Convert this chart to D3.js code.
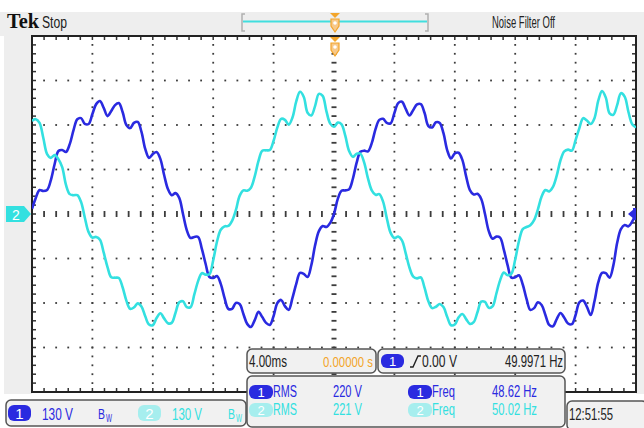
<!DOCTYPE html>
<html>
<head>
<meta charset="utf-8">
<script src="https://cdn.jsdelivr.net/npm/d3@7"></script>
<style>
body { margin: 0; background: #fff; }
text { font-family: "Liberation Sans Narrow", "Liberation Sans", Arial, sans-serif; }
</style>
</head>
<body>
<svg id="scope" width="644" height="428"></svg>
<script>
/* scope settings: 4 ms/div, 130 V/div, samples every 0.25 ms from -20 ms */
var timeDiv = 4, voltDiv = 130;
var tStart = -20, dt = 0.25;

// channel 1 (blue), volts
var ch1Volts = [
  15,47,70,67,70,99,146,184,187,181,
  204,245,277,280,263,263,292,321,330,310,
  286,301,318,324,298,260,251,266,269,240,
  190,164,175,181,161,114,73,55,61,47,
  0,
  -47,-70,-67,-67,-102,-146,-184,-187,-181,-204,
  -245,-277,-277,-260,-263,-292,-321,-330,-310,-286,
  -301,-318,-324,-298,-260,-251,-269,-280,-245,-204,
  -172,-175,-184,-149,-91,-50,-35,-38,-26,0,
  44,68,69,72,103,150,182,185,183,207,
  248,275,278,266,265,295,324,328,307,288,
  304,320,321,295,257,253,268,266,236,186,
  162,177,179,158,110,70,57,59,44,0,
  -50,-72,-66,-69,-105,-150,-186,-185,-179,-206,
  -248,-280,-275,-258,-266,-295,-324,-328,-307,-289,
  -303,-320,-322,-295,-258,-253,-271,-295,-255,-200,
  -172,-173,-186,-150,-85,-44,-32,-36,-22,2
];

// channel 2 (cyan), volts
var ch2Volts = [
  272,277,266,222,175,164,172,160,137,85,
  58,55,55,35,
  -11,-53,-69,-67,-75,-113,-155,-185,-186,-187,
  -214,-253,-277,-273,-261,-270,-299,-323,-325,-304,
  -290,-305,-319,-318,-289,-258,-255,-272,-272,-235,
  -196,-173,-177,-176,-135,-81,-46,-36,-35,-20,
  11,53,69,68,77,110,155,185,186,187,
  214,253,278,275,261,282,329,357,342,296,
  288,316,351,345,300,264,255,267,262,228,
  184,167,176,176,150,104,69,56,58,36,
  -13,-55,-70,-66,-77,-115,-157,-183,-188,-185,
  -216,-255,-275,-271,-263,-272,-301,-325,-323,-302,
  -292,-307,-321,-316,-287,-256,-257,-274,-270,-233,
  -194,-171,-179,-174,-133,-79,-44,-38,-33,-18,
  13,51,70,66,79,112,157,183,188,185,
  216,251,280,273,263,280,331,359,340,294,
  290,318,353,343,298,262,253
];

// readouts
var chScale = ["130 V", "130 V"];
var measRms = ["220 V", "221 V"];
var measFreq = ["48.62 Hz", "50.02 Hz"];
var timebase = "4.00ms", trigPos = "0.00000 s", trigLevel = "0.00 V", trigFreq = "49.9971 Hz";
var clock = "12:51:55";

var blue = "#2a2ae0", cyan = "#33e0e0", pale = "#a6eeee", orange = "#f3a52a";

var svg = d3.select("#scope");
var x = d3.scaleLinear().domain([-20, 20]).range([32, 636]);
var y = d3.scaleLinear().domain([-4 * voltDiv, 4 * voltDiv]).range([392, 36]);

// background bands
svg.append("rect").attr("x", 0).attr("y", 12).attr("width", 644).attr("height", 24).attr("fill", "#eeeeee");
svg.append("rect").attr("x", 4).attr("y", 36).attr("width", 28).attr("height", 358).attr("fill", "#eeeeee");
svg.append("rect").attr("x", 636).attr("y", 36).attr("width", 8).attr("height", 358).attr("fill", "#eeeeee");
svg.append("rect").attr("x", 32).attr("y", 36).attr("width", 604).attr("height", 356).attr("fill", "#fff");

var majT = d3.range(-20, 20.001, timeDiv);
var minT = d3.range(-20, 20.001, timeDiv / 5);
var majV = d3.range(-4 * voltDiv, 4 * voltDiv + 0.001, voltDiv);
var minV = d3.range(-4 * voltDiv, 4 * voltDiv + 0.001, voltDiv / 5);

var grid = svg.append("g").attr("fill", "#3c3c3c");
// dotted graticule
majT.filter(function(t) { return Math.abs(t) > 0.01 && Math.abs(t) < 19.9; }).forEach(function(t) {
  grid.selectAll(null).data(minV).enter().append("rect")
    .attr("x", x(t) - 0.9).attr("y", function(v) { return y(v) - 0.9; })
    .attr("width", 1.8).attr("height", 1.8);
});
majV.filter(function(v) { return Math.abs(v) > 0.01 && Math.abs(v) < 4 * voltDiv - 1; }).forEach(function(v) {
  grid.selectAll(null).data(minT).enter().append("rect")
    .attr("x", function(t) { return x(t) - 0.9; }).attr("y", y(v) - 0.9)
    .attr("width", 1.8).attr("height", 1.8);
});
// centre cross
grid.selectAll(null).data(minV).enter().append("rect")
  .attr("x", x(0) - 2.5).attr("y", function(v) { return y(v) - 0.9; })
  .attr("width", 5).attr("height", 1.8);
grid.selectAll(null).data(minT).enter().append("rect")
  .attr("x", function(t) { return x(t) - 0.9; }).attr("y", y(0) - 3)
  .attr("width", 1.8).attr("height", 6);

// border ticks
var ticks = svg.append("g").attr("stroke", "#333").attr("stroke-width", 1.5);
ticks.selectAll(null).data(minT).enter().append("line")
  .attr("x1", function(t) { return x(t); }).attr("x2", function(t) { return x(t); })
  .attr("y1", 36).attr("y2", 40);
ticks.selectAll(null).data(minT).enter().append("line")
  .attr("x1", function(t) { return x(t); }).attr("x2", function(t) { return x(t); })
  .attr("y1", 392).attr("y2", 388);
ticks.selectAll(null).data(minV).enter().append("line")
  .attr("y1", function(v) { return y(v); }).attr("y2", function(v) { return y(v); })
  .attr("x1", 32).attr("x2", 36);
ticks.selectAll(null).data(minV).enter().append("line")
  .attr("y1", function(v) { return y(v); }).attr("y2", function(v) { return y(v); })
  .attr("x1", 636).attr("x2", 632);
svg.append("rect").attr("x", 32).attr("y", 36).attr("width", 604).attr("height", 356)
  .attr("fill", "none").attr("stroke", "#222").attr("stroke-width", 2);

// traces
svg.append("clipPath").attr("id", "plotClip").append("rect")
  .attr("x", 32).attr("y", 36).attr("width", 604).attr("height", 356);
var trace = d3.line()
  .x(function(d, i) { return x(tStart + i * dt); })
  .y(function(d) { return y(d); })
  .curve(d3.curveCatmullRom.alpha(0.5));
var traces = svg.append("g").attr("clip-path", "url(#plotClip)");
traces.append("path").attr("d", trace(ch1Volts)).attr("fill", "none")
  .attr("stroke", blue).attr("stroke-width", 2.6).attr("stroke-linejoin", "round");
traces.append("path").attr("d", trace(ch2Volts)).attr("fill", "none")
  .attr("stroke", cyan).attr("stroke-width", 2.6).attr("stroke-linejoin", "round");

// helpers
function txt(s, px, py, color, len, size) {
  var t = svg.append("text").attr("x", px).attr("y", py).text(s)
    .attr("fill", color).attr("font-size", size || 16);
  if (len) t.attr("textLength", len).attr("lengthAdjust", "spacingAndGlyphs");
  return t;
}
function pill(px, py, w, h, fill, label) {
  svg.append("rect").attr("x", px).attr("y", py).attr("width", w).attr("height", h)
    .attr("rx", 6).attr("fill", fill);
  txt(label, px + w / 2, py + h - 2.5, "#fff", null, h - 1).attr("text-anchor", "middle");
}
function box(px, py, w, h) {
  svg.append("rect").attr("x", px).attr("y", py).attr("width", w).attr("height", h)
    .attr("rx", 5).attr("fill", "#f1f1f1").attr("stroke", "#555").attr("stroke-width", 1.5);
}
function bw(px, py, color) {
  txt("B", px, py - 1, color, 7, 14);
  txt("W", px + 8, py + 2, color, 6, 10);
}

// top bar
txt("Tek", 7, 28, "#111", 32, 21).style("font-family", "'Liberation Serif', 'DejaVu Serif', serif").attr("font-weight", "bold");
txt("Stop", 42, 28, "#222", 25, 16);
txt("Noise Filter Off", 492, 28, "#222", 63, 16);
svg.append("path").attr("d", "M245,14H242V31H245M425,14H428V31H425")
  .attr("fill", "none").attr("stroke", "#b0b0b0").attr("stroke-width", 1.5);
svg.append("line").attr("x1", 243).attr("x2", 427).attr("y1", 21.5).attr("y2", 21.5)
  .attr("stroke", "#40dede").attr("stroke-width", 2);

// trigger position markers
[13, 37].forEach(function(top) {
  var cx = x(0) + 1;
  svg.append("path").attr("d", "M" + (cx - 5) + "," + top + "H" + (cx + 5) + "L" + cx + "," + (top + 5) + "Z")
    .attr("fill", orange);
  svg.append("path").attr("d", "M" + (cx - 4) + "," + (top + 6) + "H" + (cx + 4) + "V" + (top + 13) +
      "L" + cx + "," + (top + 19) + "L" + (cx - 4) + "," + (top + 13) + "Z")
    .attr("fill", "#f7c98a").attr("stroke", orange).attr("stroke-width", 1.2);
  svg.append("circle").attr("cx", cx).attr("cy", top + 10).attr("r", 1.8).attr("fill", "#fff");
});

// channel 2 marker and trigger level marker
svg.append("path").attr("d", "M6,206H24L31,214L24,222H6Z").attr("fill", cyan);
txt("2", 12, 220, "#fff", null, 14);
svg.append("path").attr("d", "M628," + y(0) + "L634," + (y(0) - 5) + "V" + (y(0) + 5) + "Z").attr("fill", blue);
svg.append("rect").attr("x", 633).attr("y", y(0) - 6).attr("width", 3).attr("height", 12).attr("fill", blue);

// bottom: channel settings
box(6, 400, 240, 26);
pill(8, 405, 23, 16, blue, "1");
txt(chScale[0], 42, 420, blue, 31);
bw(98, 420, blue);
pill(138, 405, 23, 16, pale, "2");
txt(chScale[1], 172, 420, cyan, 30);
bw(228, 420, cyan);

// timebase and trigger
box(247, 349, 129, 24);
txt(timebase, 249, 367, "#222", 38);
txt(trigPos, 323, 367, orange, 50, 14);
box(378, 349, 187, 24);
pill(381, 354, 23, 14, blue, "1");
svg.append("path").attr("d", "M410,367H413L418,356H421").attr("fill", "none").attr("stroke", "#222").attr("stroke-width", 1.4);
txt(trigLevel, 422, 367, "#222", 35);
txt(trigFreq, 505, 367, "#222", 58);

// measurements
box(247, 376, 318, 51);
[0, 1].forEach(function(i) {
  var base = 397 + i * 18, col = i ? cyan : blue, fill = i ? pale : blue;
  pill(249, base - 12, 24, 14, fill, String(i + 1));
  txt("RMS", 273, base, col, 24);
  txt(measRms[i], 333, base, col, 29);
  pill(408, base - 12, 24, 14, fill, String(i + 1));
  txt("Freq", 432, base, col, 23);
  txt(measFreq[i], 492, base, col, 45);
});

// clock
box(567, 401, 80, 29);
txt(clock, 569, 420, "#222", 44);
</script>
</body>
</html>
